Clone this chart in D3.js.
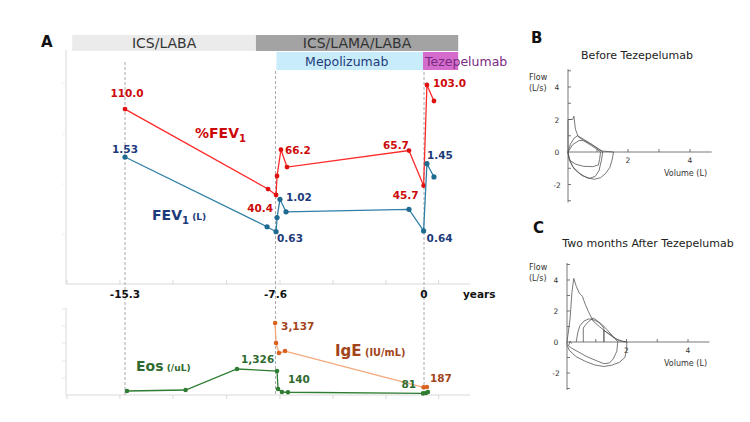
<!DOCTYPE html>
<html><head><meta charset="utf-8">
<script src="https://cdn.jsdelivr.net/npm/d3@7"></script>
<style>body{margin:0;background:#fff}svg{display:block}text{font-family:"DejaVu Sans",Verdana,sans-serif}</style>
</head><body>
<svg id="c" width="750" height="422"></svg>
<script>
// ---------------- DATA ----------------
// Panel A, upper: %FEV1 (red) and FEV1 in L (blue); years relative to tezepelumab start
const pctYears  = [-15.3, -7.98, -7.57, -7.52, -7.32, -7.01, -0.77, -0.02, 0.15, 0.51];
const pctValues = [89.3, 43.8, 40.4, 51.2, 66.2, 56.3, 65.7, 45.7, 103.0, 93.9];
const pctLabels = [[0,"110.0"],[2,"40.4"],[4,"66.2"],[6,"65.7"],[7,"45.7"],[8,"103.0"]];
const fevYears  = [-15.3, -8.03, -7.57, -7.52, -7.37, -7.06, -0.77, -0.02, 0.15, 0.51];
const fevValues = [1.53, 0.69, 0.63, 0.80, 1.02, 0.87, 0.90, 0.64, 1.45, 1.29];
const fevLabels = [[0,"1.53"],[2,"0.63"],[4,"1.02"],[7,"0.64"],[8,"1.45"]];
// Panel A, lower: eosinophils (/uL) and IgE (IU/mL)
const eosYears  = [-15.2, -12.2, -9.57, -7.52, -7.47, -7.27, -6.96, -0.05, 0.1, 0.2];
const eosValues = [204, 255, 1326, 1224, 306, 153, 140, 81, 100, 150];
const eosLabels = [[2,"1,326"],[6,"140"],[7,"81"]];
const igeYears  = [-7.62, -7.57, -7.42, -7.11, -0.02, 0.15];
const igeValues = [3137, 2212, 1751, 1843, 175, 187];
const igeLabels = [[0,"3,137"],[5,"187"]];
const xTickYears = [-18.27, -15.56, -12.85, -10.1, -7.37, -4.65, -1.95, 0.75];
const xTickLabels = [[-15.3,"-15.3"],[-7.6,"-7.6"],[0,"0"]];
const markerYears = [-15.3, -7.6, 0];
// Treatment bars [start year, end year, label]
const therapyRow1 = [[-18.0, -8.6, "ICS/LABA"], [-8.6, 1.75, "ICS/LAMA/LABA"]];
const therapyRow2 = [[-7.55, -0.05, "Mepolizumab"], [-0.05, 1.75, "Tezepelumab"]];
// Panels B/C: flow-volume loops [volume L, flow L/s]
const loopB1 = [[0,0],[0,2.0],[0.15,2.0],[0.19,2.2],[0.24,1.4],[0.33,0.95],[0.5,0.7],[0.75,0.4],[0.95,0.15],[1.05,0],[1.02,-0.45],[0.98,-0.8],[0.8,-0.9],[0.5,-0.88],[0.25,-0.75],[0.08,-0.55],[0.02,-0.3],[0,0]];
const loopB2 = [[0,0],[0.08,0.5],[0.2,0.85],[0.3,1.0],[0.45,0.85],[0.7,0.55],[0.9,0.3],[1.1,0.06],[1.47,0],[1.42,-0.5],[1.35,-0.95],[1.2,-1.35],[1.05,-1.58],[0.85,-1.68],[0.6,-1.58],[0.38,-1.32],[0.15,-0.9],[0.04,-0.45],[0,0]];
const loopB3 = [[0,0],[0.15,0.45],[0.35,0.7],[0.5,0.72],[0.75,0.48],[0.95,0.22],[1.12,0],[1.08,-0.5],[1.0,-1.15],[0.88,-1.5],[0.7,-1.62],[0.45,-1.45],[0.2,-1.05],[0.05,-0.5],[0,0]];
const loopC1 = [[0,0],[0.1,1.5],[0.16,3.2],[0.22,4.1],[0.3,3.6],[0.4,3.15],[0.5,2.95],[0.6,2.4],[0.7,1.95],[0.85,1.35],[1.05,1.0],[1.3,0.6],[1.5,0.3],[1.7,0.08],[1.95,0],[1.93,-0.6],[1.88,-1.0],[1.7,-1.32],[1.45,-1.5],[1.2,-1.58],[0.9,-1.48],[0.6,-1.25],[0.3,-0.95],[0.08,-0.55],[0,-0.2],[0,0]];
const loopC2 = [[0.3,0],[0.35,0.6],[0.42,1.05],[0.55,1.35],[0.72,1.5],[0.9,1.4],[1.1,1.2],[1.3,0.8],[1.5,0.35],[1.65,0.02],[1.62,-0.6],[1.5,-1.1],[1.38,-1.35],[1.2,-1.4],[0.95,-1.2],[0.65,-0.95],[0.38,-0.65],[0.15,-0.4],[0.05,-0.25],[0.1,0.05],[0.15,-0.1]];
const loopC3 = [[0.53,0],[0.53,0.9],[0.6,1.1],[0.72,1.35],[0.85,1.55],[1.0,1.35],[1.2,0.9],[1.2,0],[1.2,0.75],[1.4,0.5],[1.6,0.2],[1.8,0.05],[1.95,0]];

// ---------------- DRAW ----------------
const svg = d3.select("#c");
const x = d3.scaleLinear().domain([-15.3, 0]).range([125, 424]);
const yPct = d3.scaleLinear().domain([40.4, 103]).range([195, 85]);
const yFev = d3.scaleLinear().domain([0, 2]).range([284, 118]);
const yEos = d3.scaleLinear().domain([0, 1326]).range([395, 369]);
const yIge = d3.scaleLinear().domain([187, 3137]).range([387, 323]);

// Panel label
svg.append("text").attr("x", 41).attr("y", 47).attr("font-size", 15).attr("font-weight", "bold").attr("fill", "#111").text("A");

// therapy bars
const barX = d3.scaleLinear().domain([-15.3, 0]).range([125, 424]);
const row1Fill = ["#ebebeb", "#a3a3a3"];
therapyRow1.forEach((d, i) => {
  svg.append("rect").attr("x", barX(d[0])).attr("y", 35).attr("width", barX(d[1]) - barX(d[0])).attr("height", 16).attr("fill", row1Fill[i]);
  svg.append("text").attr("x", (barX(d[0]) + barX(d[1])) / 2).attr("y", 48).attr("text-anchor", "middle")
    .attr("font-size", 14).attr("fill", "#333").text(d[2]);
});
const row2Fill = ["#c9ecfb", "#d46ccd"];
therapyRow2.forEach((d, i) => {
  svg.append("rect").attr("x", barX(d[0])).attr("y", 52).attr("width", barX(d[1]) - barX(d[0])).attr("height", 18).attr("fill", row2Fill[i]);
});
svg.append("text").attr("x", (barX(therapyRow2[0][0]) + barX(therapyRow2[0][1])) / 2 - 3).attr("y", 66).attr("text-anchor", "middle")
  .attr("font-size", 12.5).attr("fill", "#1d3b7a").text(therapyRow2[0][2]);
svg.append("text").attr("x", barX(therapyRow2[1][0]) + 2).attr("y", 66)
  .attr("font-size", 12.5).attr("fill", "#7b2a82").text(therapyRow2[1][2]);

// axes (light grey)
const axisCol = "#d9d9d9";
const g = svg.append("g");
g.append("line").attr("x1", 66).attr("x2", 66).attr("y1", 50).attr("y2", 284).attr("stroke", axisCol);
g.append("line").attr("x1", 66).attr("x2", 470).attr("y1", 284).attr("y2", 284).attr("stroke", axisCol);
[83, 134, 184, 234].forEach(v => g.append("line").attr("x1", 62).attr("x2", 66).attr("y1", v).attr("y2", v).attr("stroke", "#eee"));
xTickYears.forEach(t => g.append("line").attr("x1", x(t)).attr("x2", x(t)).attr("y1", 280).attr("y2", 284).attr("stroke", axisCol));
g.append("line").attr("x1", 66).attr("x2", 66).attr("y1", 308).attr("y2", 395).attr("stroke", axisCol);
g.append("line").attr("x1", 66).attr("x2", 470).attr("y1", 395).attr("y2", 395).attr("stroke", axisCol);
[309, 326, 343, 361, 378].forEach(v => g.append("line").attr("x1", 62).attr("x2", 66).attr("y1", v).attr("y2", v).attr("stroke", "#e6e6e6"));
xTickYears.forEach(t => g.append("line").attr("x1", x(t)).attr("x2", x(t)).attr("y1", 395).attr("y2", 399).attr("stroke", axisCol));

// dashed markers
const dashTop = [62, 71, 72];
markerYears.forEach((t, i) => svg.append("line").attr("x1", x(t)).attr("x2", x(t)).attr("y1", dashTop[i]).attr("y2", 395)
  .attr("stroke", "#a8a8a8").attr("stroke-width", 1).attr("stroke-dasharray", "3,2"));

// x tick labels
xTickLabels.forEach(d => svg.append("text").attr("x", x(d[0])).attr("y", 298).attr("text-anchor", "middle")
  .attr("font-size", 10.5).attr("font-weight", "bold").attr("fill", "#111").text(d[1]));
svg.append("text").attr("x", 463).attr("y", 298).attr("font-size", 10.5).attr("font-weight", "bold").attr("fill", "#111").text("years");

function series(years, vals, ys, lineCol, dotCol, r) {
  const pts = years.map((t, i) => [x(t), ys(vals[i])]);
  svg.append("path").attr("d", d3.line()(pts)).attr("fill", "none").attr("stroke", lineCol).attr("stroke-width", 1.3);
  svg.selectAll(null).data(pts).enter().append("circle").attr("cx", d => d[0]).attr("cy", d => d[1]).attr("r", r).attr("fill", dotCol);
  return pts;
}
const pPct = series(pctYears, pctValues, yPct, "#ff2a2a", "#e01010", 2.4);
const pFev = series(fevYears, fevValues, yFev, "#2f7fa6", "#1f6a90", 2.6);
const pIge = series(igeYears, igeValues, yIge, "#f4a77a", "#d9621f", 2.3);
const pEos = series(eosYears, eosValues, yEos, "#2e7d32", "#2e7d32", 2.3);

function lbl(txt, xx, yy, col, anchor) {
  svg.append("text").attr("x", xx).attr("y", yy).attr("text-anchor", anchor || "start")
    .attr("font-size", 10.5).attr("font-weight", "bold").attr("fill", col).text(txt);
}
const red = "#cc0a0a", navy = "#1d3b7a", brown = "#a3451b", green = "#2f6b2f";
// %FEV1 labels
const pctOff = {0: [2, -12, "middle"], 2: [-3, 17, "end"], 4: [4, 4, "start"], 6: [0, -2, "end"], 7: [-5, 13, "end"], 8: [6, 2, "start"]};
pctLabels.forEach(d => { const p = pPct[d[0]], o = pctOff[d[0]]; lbl(d[1], p[0] + o[0], p[1] + o[1], red, o[2]); });
const fevOff = {0: [0, -4, "middle"], 2: [1, 10, "start"], 4: [6, 2, "start"], 7: [3, 11, "start"], 8: [0, -5, "start"]};
fevLabels.forEach(d => { const p = pFev[d[0]], o = fevOff[d[0]]; lbl(d[1], p[0] + o[0], p[1] + o[1], navy, o[2]); });
const eosOff = {2: [4, -6, "start"], 6: [0, -9, "start"], 7: [-7, -5, "end"]};
eosLabels.forEach(d => { const p = pEos[d[0]], o = eosOff[d[0]]; lbl(d[1], p[0] + o[0], p[1] + o[1], green, o[2]); });
const igeOff = {0: [6, 7, "start"], 5: [3, -5, "start"]};
igeLabels.forEach(d => { const p = pIge[d[0]], o = igeOff[d[0]]; lbl(d[1], p[0] + o[0], p[1] + o[1], brown, o[2]); });

// series names
function name(xx, yy, main, sub, extra, col, size) {
  const t = svg.append("text").attr("x", xx).attr("y", yy).attr("font-weight", "bold").attr("fill", col).attr("font-size", size);
  t.append("tspan").text(main);
  if (sub) t.append("tspan").attr("font-size", size * 0.72).attr("dy", 4).text(sub);
  if (extra) t.append("tspan").attr("font-size", size * 0.65).attr("dy", sub ? -4 : 0).text(extra);
}
name(195, 138, "%FEV", "1", null, red, 14);
name(152, 220, "FEV", "1", " (L)", navy, 14);
name(136, 371, "Eos", null, " (/uL)", green, 14);
name(335, 356, "IgE", null, " (IU/mL)", brown, 15);

// ---------------- Panels B & C ----------------
function loopPanel(cfg) {
  const xs = d3.scaleLinear().domain([0, 4]).range([cfg.x0, cfg.x4]);
  const ys = d3.scaleLinear().domain([0, 4]).range([cfg.y0, cfg.y4]);
  const p = svg.append("g");
  p.append("text").attr("x", cfg.lx).attr("y", cfg.ly).attr("font-size", 15).attr("font-weight", "bold").attr("fill", "#111").text(cfg.letter);
  p.append("text").attr("x", cfg.tx).attr("y", cfg.ty).attr("text-anchor", "middle").attr("font-size", 11).attr("fill", "#222").text(cfg.title);
  const ax = "#555";
  p.append("line").attr("x1", xs(0) + 2).attr("x2", xs(0) + 2).attr("y1", ys(5.1)).attr("y2", ys(-3.1)).attr("stroke", ax).attr("stroke-width", 0.8);
  p.append("line").attr("x1", xs(0) + 2).attr("x2", xs(4.7)).attr("y1", ys(0)).attr("y2", ys(0)).attr("stroke", ax).attr("stroke-width", 0.8);
  [5, 4, 3, 2, 1, -1, -2, -3].forEach(v => p.append("line").attr("x1", xs(0) + 2).attr("x2", xs(0) + 5).attr("y1", ys(v)).attr("y2", ys(v)).attr("stroke", ax).attr("stroke-width", 0.8));
  [1, 2, 3, 4].forEach(v => p.append("line").attr("x1", xs(v)).attr("x2", xs(v)).attr("y1", ys(0)).attr("y2", ys(0) - 3).attr("stroke", ax).attr("stroke-width", 0.8));
  [4, 2, 0, -2].forEach(v => p.append("text").attr("x", xs(0) - 9).attr("y", ys(v) + 3).attr("text-anchor", "middle").attr("font-size", 7.5).attr("fill", "#333").text(v));
  [2, 4].forEach(v => p.append("text").attr("x", xs(v)).attr("y", ys(0) + 11).attr("text-anchor", "middle").attr("font-size", 7.5).attr("fill", "#333").text(v));
  p.append("text").attr("x", 529).attr("y", ys(0) - 72).attr("font-size", 8).attr("fill", "#333").text("Flow");
  p.append("text").attr("x", 529).attr("y", ys(0) - 61).attr("font-size", 8).attr("fill", "#333").text("(L/s)");
  p.append("text").attr("x", 664).attr("y", ys(0) + 24).attr("font-size", 8).attr("fill", "#333").text("Volume (L)");
  const ln = d3.line().x(d => xs(d[0]) + 2).y(d => ys(d[1]));
  cfg.loops.forEach(l => p.append("path").attr("d", ln(l)).attr("fill", "none").attr("stroke", "#555").attr("stroke-width", 0.8));
}
loopPanel({letter: "B", lx: 531, ly: 43, title: "Before Tezepelumab", tx: 637, ty: 59, x0: 566, x4: 690, y0: 152, y4: 87, loops: [loopB1, loopB2, loopB3]});
loopPanel({letter: "C", lx: 533, ly: 233, title: "Two months After Tezepelumab", tx: 648, ty: 247, x0: 565, x4: 688, y0: 342, y4: 280, loops: [loopC1, loopC2, loopC3]});
</script>
</body></html>
